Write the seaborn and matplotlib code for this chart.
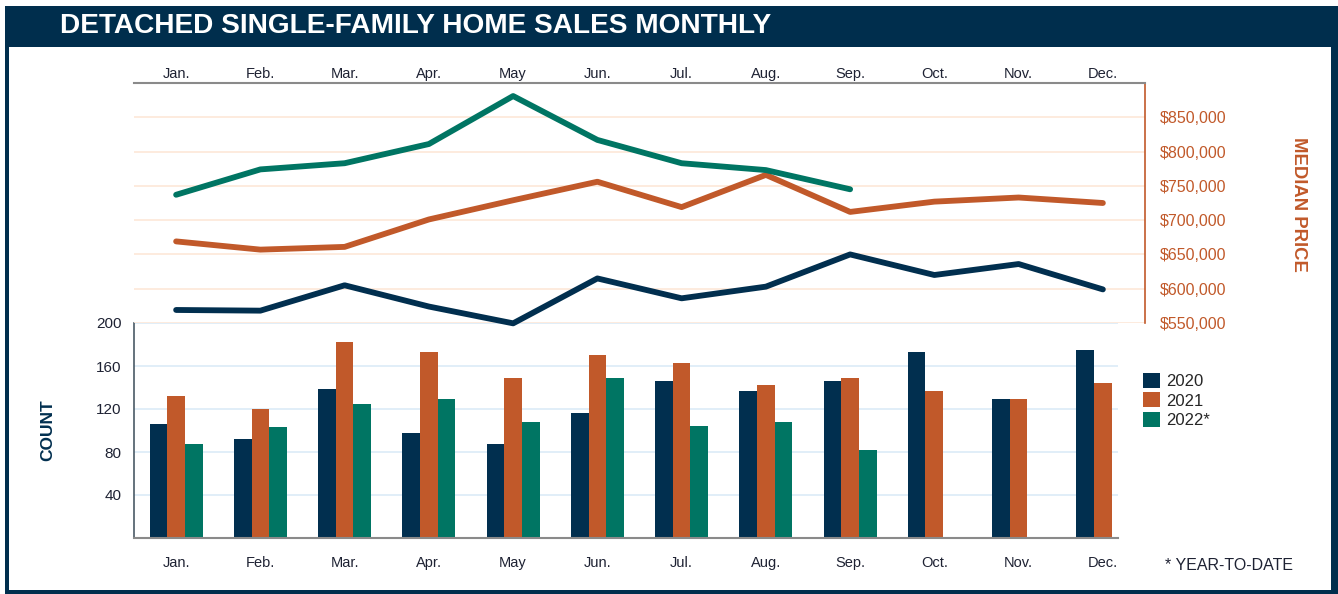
import numpy as np
import pandas as pd
import matplotlib
matplotlib.use("Agg")
import matplotlib.pyplot as plt
from matplotlib.patches import Rectangle
from matplotlib.ticker import FuncFormatter
import seaborn as sns

# values
months = ["Jan.", "Feb.", "Mar.", "Apr.", "May", "Jun.",
          "Jul.", "Aug.", "Sep.", "Oct.", "Nov.", "Dec."]
years = ["2020", "2021", "2022*"]

price_2020 = [569000, 568000, 605000, 574000, 549500, 615000,
              586000, 603000, 650000, 620000, 636000, 599000]
price_2021 = [669000, 657000, 661000, 701000, 729000, 756000,
              719000, 766000, 712000, 727000, 733000, 725000]
price_2022 = [737000, 774000, 783000, 811000, 881000, 817000,
              783000, 773000, 745000]

count_2020 = [106, 92, 139, 98, 87, 116, 146, 137, 146, 173, 129, 175]
count_2021 = [132, 120, 182, 173, 149, 170, 163, 142, 149, 137, 129, 144]
count_2022 = [87, 103, 125, 129, 108, 149, 104, 108, 82]

NAVY = "#012F4F"
ORANGE = "#C1592A"
GREEN = "#007563"
TEXT = "#1E2233"
palette = dict(zip(years, [NAVY, ORANGE, GREEN]))


def long_table(series, col):
    rows = []
    for year, vals in zip(years, series):
        for i, v in enumerate(vals):
            rows.append({"month": months[i], "pos": i, "year": year, col: v})
    return pd.DataFrame(rows)


prices = long_table([price_2020, price_2021, price_2022], "price")
counts = long_table([count_2020, count_2021, count_2022], "count")

sns.set_theme(style="white")
plt.rcParams["font.family"] = ["Liberation Sans", "DejaVu Sans"]

W, H = 1338, 594
fig = plt.figure(figsize=(W / 100, H / 100), dpi=100, facecolor="white")

# frame and title bar
fig.add_artist(Rectangle((5 / W, 0), 1 - 5 / W, 1 - 6 / H, transform=fig.transFigure,
                         facecolor="#002E4D", edgecolor="none", zorder=-10))
fig.add_artist(Rectangle((9 / W, 4 / H), 1322 / W, (590 - 47) / H, transform=fig.transFigure,
                         facecolor="white", edgecolor="none", zorder=-9))
fig.text(60 / W, 1 - 26 / H, "DETACHED SINGLE-FAMILY HOME SALES MONTHLY",
         color="white", fontsize=20.2, fontweight="bold", va="center", ha="left")

# ---- bar chart (count)
ax_bar = fig.add_axes([134 / W, 1 - 538 / H, 984 / W, 215 / H])
ax_bar.set_facecolor("none")
sns.barplot(data=counts, x="month", y="count", hue="year", order=months,
            hue_order=years, palette=palette, width=0.63, gap=0,
            saturation=1, linewidth=0, edgecolor="none", ax=ax_bar, legend=True)
ax_bar.set_xlim(-0.5, 11.18)
ax_bar.set_ylim(0, 200)
ax_bar.set_yticks([40, 80, 120, 160, 200])
ax_bar.yaxis.grid(True, color="#DCEBF7", linewidth=1.2)
ax_bar.set_axisbelow(True)
for s in ["top", "right"]:
    ax_bar.spines[s].set_visible(False)
ax_bar.spines["left"].set_color("#4A5A66")
ax_bar.spines["bottom"].set_color("#8A8A8A")
ax_bar.spines["left"].set_linewidth(1.2)
ax_bar.spines["bottom"].set_linewidth(1.5)
ax_bar.tick_params(axis="x", length=0, pad=13, labelsize=10.5, labelcolor=TEXT)
ax_bar.tick_params(axis="y", length=0, pad=9, labelsize=11, labelcolor=TEXT)
ax_bar.set_xlabel("")
ax_bar.set_ylabel("")
handles, labels = ax_bar.get_legend_handles_labels()
ax_bar.legend(handles, labels, loc="upper left", bbox_to_anchor=(1143 / W, 1 - 373 / H),
              bbox_transform=fig.transFigure, frameon=False, fontsize=12,
              handlelength=1.0, handleheight=1.0, handletextpad=0.4,
              labelspacing=0.2, borderpad=0, borderaxespad=0)

# ---- line chart (median price)
ax_line = fig.add_axes([134 / W, 1 - 323 / H, 1011 / W, 240 / H])
ax_line.set_facecolor("none")
sns.lineplot(data=prices, x="pos", y="price", hue="year", hue_order=years,
             palette=palette, linewidth=4.2, legend=False, ax=ax_line,
             solid_capstyle="round", solid_joinstyle="round", clip_on=False)
ax_line.set_xlim(-0.5, 11.5)
ax_line.set_ylim(550000, 900000)
ax_line.set_xticks(range(12))
ax_line.set_xticklabels(months)
ax_line.xaxis.tick_top()
ax_line.yaxis.tick_right()
ax_line.set_yticks(np.arange(550000, 900000, 50000))
ax_line.yaxis.set_major_formatter(FuncFormatter(lambda v, p: f"${v:,.0f}"))
ax_line.yaxis.grid(True, color="#FDE8D8", linewidth=1.2)
ax_line.set_axisbelow(True)
ax_line.spines["left"].set_visible(False)
ax_line.spines["bottom"].set_visible(False)
ax_line.spines["top"].set_color("#8A8A8A")
ax_line.spines["top"].set_linewidth(1.5)
ax_line.spines["right"].set_color(ORANGE)
ax_line.spines["right"].set_linewidth(1.2)
ax_line.tick_params(axis="x", length=0, pad=1.5, labelsize=10.5, labelcolor=TEXT)
ax_line.tick_params(axis="y", length=0, pad=11, labelsize=11.5, labelcolor=ORANGE)
ax_line.set_xlabel("")
ax_line.set_ylabel("")

# axis titles and note
fig.text(48 / W, 1 - 430 / H, "COUNT", rotation=90, color=NAVY, fontsize=12.5,
         fontweight="bold", ha="center", va="center")
fig.text(1298 / W, 1 - 204 / H, "MEDIAN PRICE", rotation=270, color=ORANGE,
         fontsize=13.3, fontweight="bold", ha="center", va="center")
fig.text(1165 / W, 1 - 566 / H, "* YEAR-TO-DATE", color=TEXT, fontsize=11.5,
         ha="left", va="center")

fig.savefig("out.png", dpi=100, facecolor="white")
